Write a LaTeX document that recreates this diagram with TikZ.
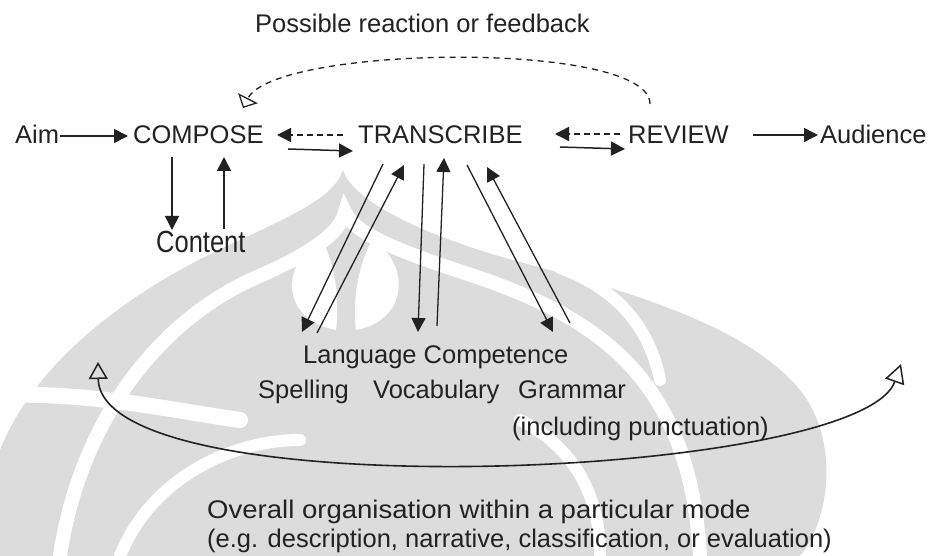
\documentclass[tikz,border=0pt]{standalone}
\usepackage{fontspec}
\setmainfont{Liberation Sans}
\newfontfamily\widesans[FakeStretch=1.08]{Liberation Sans}
\usetikzlibrary{arrows.meta,calc}
\definecolor{wm}{HTML}{DCDCDC}
\definecolor{ink}{HTML}{222222}
\begin{document}
\begin{tikzpicture}[x=1pt,y=-1pt,
  lbl/.style={inner sep=0pt, anchor=base west, font=\fontsize{25.5}{30}\selectfont, text=ink},
  arr/.style={line width=1.5pt, draw=ink, -{Triangle[length=14pt,width=14pt]}},
  thinarr/.style={arr, line width=1.3pt},
  darr/.style={arr, dash pattern=on 6pt off 4pt},
  fbarr/.style={line width=1.3pt, draw=ink, dash pattern=on 6pt off 5pt, -{Triangle[open,length=11pt,width=22pt,line width=1.3pt]}},
  oarr/.style={line width=1.6pt, draw=ink, {Triangle[open,length=17pt,width=19pt,line width=1.5pt]}-{Triangle[open,length=19pt,width=20pt,line width=1.5pt]}},
  wmband/.style={draw=white, line width=14pt, line cap=round},
]
\useasboundingbox (0,0) rectangle (932,556);

% faint background watermark (simplified)
\fill[wm] (0,556) -- (0,450) .. controls (40,350) and (150,280) .. (240,240)
  .. controls (300,212) and (335,195) .. (343,170)
  .. controls (352,200) and (420,235) .. (520,262)
  .. controls (650,297) and (750,330) .. (800,390)
  .. controls (840,440) and (830,520) .. (800,556) -- cycle;
\draw[wmband] (60,556) .. controls (80,420) and (160,320) .. (255,278)
  .. controls (315,252) and (340,232) .. (345,212)
  .. controls (356,238) and (420,258) .. (480,278)
  .. controls (600,320) and (690,380) .. (700,556);
\fill[white] (336,330) .. controls (280,320) and (280,262) .. (322,240)
  .. controls (334,262) and (340,295) .. cycle;
\fill[white] (356,330) .. controls (410,320) and (410,262) .. (372,240)
  .. controls (360,262) and (352,295) .. cycle;
\draw[wmband, line width=16pt] (0,395) .. controls (90,392) and (170,410) .. (240,420);
\draw[wmband, line width=12pt] (120,556) .. controls (150,480) and (230,440) .. (300,440);
\draw[wmband, line width=12pt] (560,268) .. controls (620,290) and (650,330) .. (660,380);
\draw[wmband, line width=12pt] (600,556) .. controls (600,480) and (560,440) .. (520,420);

% labels
\node[lbl] (feedback) at (255,33) {Possible reaction or feedback};
\node[lbl] (aim) at (15,144) {Aim};
\node[lbl] (compose) at (133,144) {COMPOSE};
\node[lbl] (transcribe) at (358,144) {TRANSCRIBE};
\node[lbl] (review) at (628,144) {REVIEW};
\node[lbl] (audience) at (820,144) {Audience};
\node[lbl] (content) at (156,253) {\scalebox{1}[1.2]{Content}};
\node[lbl] (langcomp) at (303,363) {Language Competence};
\node[lbl] (spelling) at (258,398) {Spelling};
\node[lbl] (vocab) at (373,398) {Vocabulary};
\node[lbl] (grammar) at (518,398) {Grammar};
\node[lbl] (punct) at (512,435) {(including punctuation)};
\node[lbl, font=\fontsize{25.5}{30}\widesans] (overall) at (207,518) {Overall organisation within a particular mode};
\node[lbl] (eg) at (207,547) {(e.g. description, narrative, classification, or evaluation)};

\coordinate (lefttip) at (98,362);
\coordinate (righttip) at (901,364);

% main row
\draw[arr] ($(aim.base west)+(45,-8)$) -- ($(compose.base west)+(-5,-8)$);
\draw[darr] ($(transcribe.base west)+(-15,-9)$) -- ($(compose.base west)+(144,-9)$);
\draw[arr] ($(compose.base west)+(155,5)$) -- ($(transcribe.base west)+(-5,7)$);
\draw[darr] ($(review.base west)+(-8,-10)$) -- ($(transcribe.base west)+(197,-10)$);
\draw[arr] ($(transcribe.base west)+(202,3)$) -- ($(review.base west)+(-3,5)$);
\draw[arr] ($(review.base west)+(125,-9)$) -- ($(audience.base west)+(-2,-9)$);

% content
\draw[arr] ($(compose.base west)+(39,13)$) -- ($(content.base west)+(16,-23)$);
\draw[arr] ($(content.base west)+(68,-24)$) -- ($(compose.base west)+(91,13)$);

% language competence
\draw[thinarr] ($(transcribe.base west)+(25,20)$) -- ($(langcomp.base west)+(-1,-31)$);
\draw[thinarr] ($(langcomp.base west)+(14,-30)$) -- ($(transcribe.base west)+(46,21)$);
\draw[thinarr] ($(transcribe.base west)+(66,20)$) -- ($(langcomp.base west)+(115,-31)$);
\draw[thinarr] ($(langcomp.base west)+(134,-37)$) -- ($(transcribe.base west)+(86,14)$);
\draw[thinarr] ($(transcribe.base west)+(109,21)$) -- ($(langcomp.base west)+(250,-31)$);
\draw[thinarr] ($(langcomp.base west)+(267,-40)$) -- ($(transcribe.base west)+(129,23)$);

% feedback
\draw[fbarr] ($(review.base west)+(22,-40)$) .. controls (650,40) and (275,45) .. ($(compose.base west)+(110,-36)$);

% overall organisation
\draw[oarr] (lefttip) .. controls (100,510) and (860,480) .. (righttip);
\end{tikzpicture}
\end{document}
